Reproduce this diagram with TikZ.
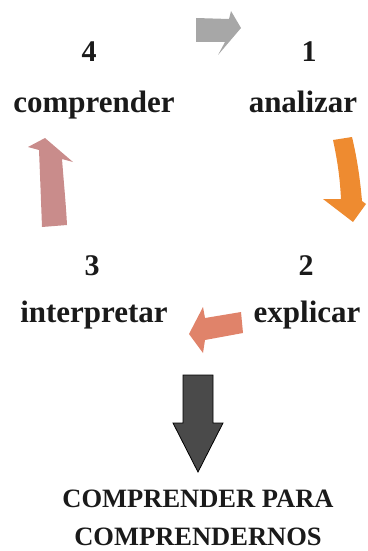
\documentclass[tikz,border=0pt]{standalone}
\usepackage{fontspec}
\setmainfont{Liberation Serif}
\begin{document}
\definecolor{txt}{HTML}{1A1A1A}
\definecolor{greyarrow}{HTML}{A7A7A7}
\definecolor{orangearrow}{HTML}{EE8B30}
\definecolor{clayarrow}{HTML}{E0836A}
\definecolor{rosearrow}{HTML}{C98C8B}
\definecolor{darkarrow}{HTML}{4A4A4A}
\begin{tikzpicture}[x=1pt,y=-1pt,
  numlabel/.style={anchor=base,inner sep=0pt,text=txt,font=\fontsize{30}{30}\selectfont\bfseries},
  steplabel/.style={anchor=base,inner sep=0pt,text=txt,font=\fontsize{31}{31}\selectfont\bfseries},
  closing/.style={anchor=base,inner sep=0pt,text=txt,font=\fontsize{26.5}{26.5}\selectfont\bfseries}]
\useasboundingbox (0,0) rectangle (367,551);

% step numbers and verbs
\node[numlabel] (n4) at (89,62) {4};
\node[numlabel] (n1) at (309,62) {1};
\node[steplabel] (s4) at (94,112) {comprender};
\node[steplabel] (s1) at (303,112) {analizar};
\node[numlabel] (n3) at (92,275) {3};
\node[numlabel] (n2) at (306,275) {2};
\node[steplabel] (s3) at (94,322) {interpretar};
\node[steplabel] (s2) at (307,322) {explicar};

% cycle arrows
\fill[greyarrow] (196,18) -- (229,19) -- (231,11) -- (241,28) -- (218,55)
  -- (225,42) -- (196,42) -- cycle;
\fill[orangearrow] (333,140) .. controls (338,163) and (340,180) .. (341,199)
  -- (323,199) -- (353,222) -- (366,204) -- (362,201)
  .. controls (360,178) and (357,158) .. (352,137) -- cycle;
\fill[clayarrow] (241,312) -- (205,318) -- (203,307) -- (189,334)
  -- (203,353) -- (205,340) -- (243,333) -- cycle;
\fill[rosearrow] (42,227) .. controls (41,200) and (40,175) .. (39,150)
  -- (28,147) -- (45,138) -- (73,162) -- (62,159)
  .. controls (64,185) and (66,205) .. (67,225) -- cycle;

% result arrow
\filldraw[fill=darkarrow,draw=black,line width=0.8pt,line join=miter]
  (183,375) -- (213,375) -- (213,423) -- (223,423) -- (198,472)
  -- (173,423) -- (183,423) -- cycle;

% conclusion
\node[closing] (c1) at (198,507) {COMPRENDER PARA};
\node[closing] (c2) at (198,545) {COMPRENDERNOS};
\end{tikzpicture}
\end{document}
